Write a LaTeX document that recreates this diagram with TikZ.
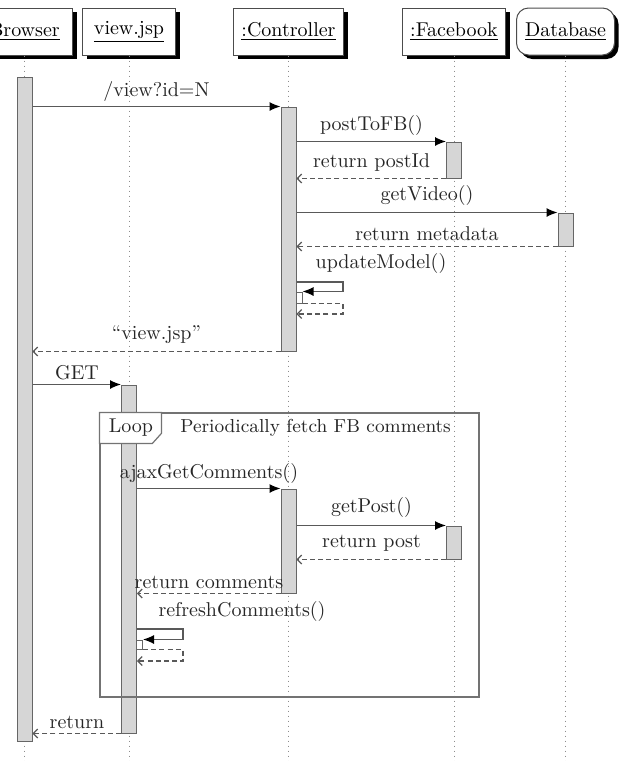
\documentclass[tikz,border=0pt]{standalone}
\usetikzlibrary{arrows.meta,shadows,fit,calc}
\begin{document}
\begin{tikzpicture}[x=0.5pt,y=-0.5pt,
  hdbox/.style={draw=black!70, line width=0.5pt, fill=white, minimum height=23.5pt, inner sep=0pt,
     drop shadow={shadow xshift=2pt, shadow yshift=-2pt, fill=black, opacity=1}},
  lifeln/.style={dotted, draw=black!45, line width=0.5pt},
  actbar/.style={draw=black!60, fill=black!16, line width=0.5pt, inner sep=0pt},
  msgarrow/.style={draw=black!65, line width=0.6pt, -{Latex[length=5.5pt,width=4.5pt,black]}},
  retarrow/.style={draw=black!65, line width=0.6pt, dash pattern=on 2.5pt off 1.6pt, -{Straight Barb[length=2.2pt,width=4.5pt]}},
  msglbl/.style={text=black!85, inner sep=0pt},
  frmbox/.style={draw=black!55, line width=0.6pt, inner sep=0pt}
]
\useasboundingbox (0,0) rectangle (621,761);
\coordinate (bot) at (0,761);

% header boxes
\node[hdbox, minimum width=48pt] (hB) at (24.5,31.5) {\underline{Browser}};
\node[hdbox, minimum width=46.5pt] (hV) at (129,31.5) {\underline{view.jsp}};
\node[hdbox, minimum width=55pt] (hC) at (288.5,31.5) {\underline{:Controller}};
\node[hdbox, minimum width=51.5pt] (hF) at (454,31.5) {\underline{:Facebook}};
\node[hdbox, rounded corners=6pt, minimum width=49pt] (hD) at (565.5,31.5) {\underline{Database}};

% lifelines
\foreach \h in {hB,hV,hC,hF,hD} \draw[lifeln] (\h.south) -- (\h.south |- bot);

% activation bars
\node[actbar, fit={(17,77)(32,741)}] (bB) {};
\node[actbar, fit={(121.5,385)(136.5,733)}] (vV) {};
\node[actbar, fit={(281,107)(296,351)}] (cC1) {};
\node[actbar, fit={(281,489)(296,593)}] (cC2) {};
\node[actbar, fit={(446.5,142)(461.5,178)}] (fF1) {};
\node[actbar, fit={(446.5,526)(461.5,559)}] (fF2) {};
\node[actbar, fit={(558,213)(573,246)}] (dD1) {};
\node[actbar, fill=white, fit={(296,292)(302,303)}] (cN1) {};
\node[actbar, fill=white, fit={(136.5,640)(142.5,649)}] (vN1) {};

\coordinate (u1) at (343,282);
\coordinate (u2) at (343,314);
\coordinate (u3) at (183,629);
\coordinate (u4) at (183,661);

% messages
\draw[msgarrow] (bB.east |- cC1.north) -- (cC1.north west);
\draw[msgarrow] (cC1.east |- fF1.north) -- (fF1.north west);
\draw[retarrow] (fF1.south west) -- (cC1.east |- fF1.south);
\draw[msgarrow] (cC1.east |- dD1.north) -- (dD1.north west);
\draw[retarrow] (dD1.south west) -- (cC1.east |- dD1.south);
\draw[msgarrow] (cC1.east |- u1) -- (u1) -- (u1 |- cN1.north) -- (cN1.north east);
\draw[retarrow] (cN1.south east) -- (u2 |- cN1.south) -- (u2) -- (cC1.east |- u2);
\draw[retarrow] (cC1.south west) -- (bB.east |- cC1.south);
\draw[msgarrow] (bB.east |- vV.north) -- (vV.north west);

% loop frame
\node[frmbox, fit={(100,413)(479,697)}] (loop) {};
\draw[frmbox, fill=white] (loop.north west) -- ++(62,0) -- ++(0,21) -- ++(-9,10) -- ++(-53,0) -- cycle;
\node[msglbl] (looplbl) at (131,428) {Loop};
\node[msglbl, anchor=west, font=\fontsize{9.4}{11}\selectfont] (loopdesc) at (180,428) {Periodically fetch FB comments};

\draw[msgarrow] (vV.east |- cC2.north) -- (cC2.north west);
\draw[msgarrow] (cC2.east |- fF2.north) -- (fF2.north west);
\draw[retarrow] (fF2.south west) -- (cC2.east |- fF2.south);
\draw[retarrow] (cC2.south west) -- (vV.east |- cC2.south);
\draw[msgarrow] (vV.east |- u3) -- (u3) -- (u3 |- vN1.north) -- (vN1.north east);
\draw[retarrow] (vN1.south east) -- (u4 |- vN1.south) -- (u4) -- (vV.east |- u4);
\draw[retarrow] (vV.south west) -- (bB.east |- vV.south);

% labels
\node[msglbl] (l1) at (156.5,91) {/view?id=N};
\node[msglbl] (l2) at (371.5,125) {postToFB()};
\node[msglbl] (l3) at (371.5,162) {return postId};
\node[msglbl] (l4) at (427,195) {getVideo()};
\node[msglbl] (l5) at (427,234) {return metadata};
\node[msglbl] (l6) at (381,263) {updateModel()};
\node[msglbl] (l7) at (156.5,335) {``view.jsp''};
\node[msglbl] (l8) at (77,373) {GET};
\node[msglbl] (l9) at (209,473) {ajaxGetComments()};
\node[msglbl] (l10) at (371.5,507) {getPost()};
\node[msglbl] (l11) at (371.5,543) {return post};
\node[msglbl] (l12) at (209,582) {return comments};
\node[msglbl] (l13) at (242,611) {refreshComments()};
\node[msglbl] (l14) at (77,722) {return};
\end{tikzpicture}
\end{document}
